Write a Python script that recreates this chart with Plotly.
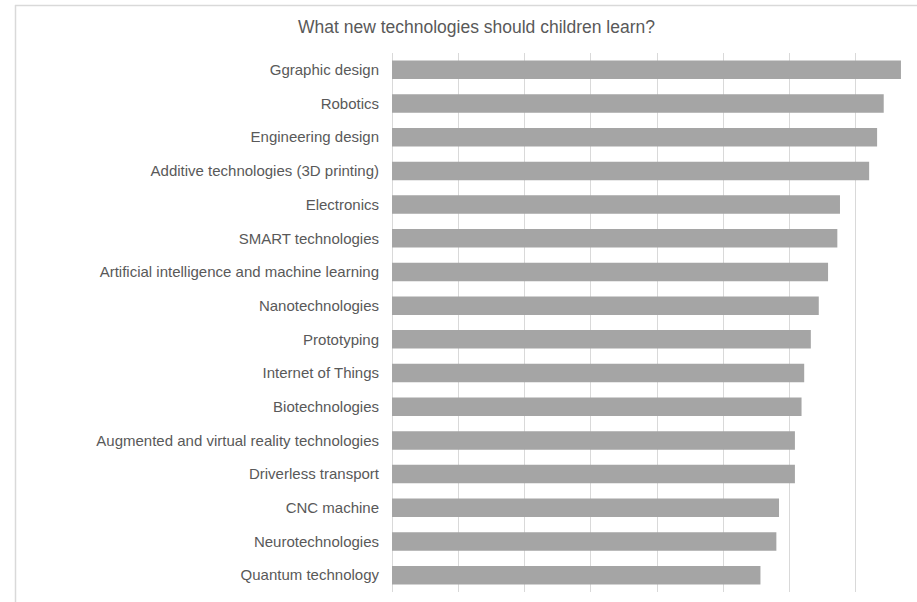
import plotly.graph_objects as go

categories = [
    "Ggraphic design",
    "Robotics",
    "Engineering design",
    "Additive technologies (3D printing)",
    "Electronics",
    "SMART technologies",
    "Artificial intelligence and machine learning",
    "Nanotechnologies",
    "Prototyping",
    "Internet of Things",
    "Biotechnologies",
    "Augmented and virtual reality technologies",
    "Driverless transport",
    "CNC machine",
    "Neurotechnologies",
    "Quantum technology",
]
values = [3.84, 3.71, 3.66, 3.60, 3.38, 3.36, 3.29, 3.22, 3.16, 3.11, 3.09, 3.04, 3.04, 2.92, 2.90, 2.78]

title_text = "What new technologies should children learn?"

W, H = 917, 602
L, R, T, B = 392, 0, 53, 10
plot_w = W - L - R
plot_h = H - T - B
px_per_unit = 66.27 / 0.5
xmax = plot_w / px_per_unit

fig = go.Figure(
    go.Bar(
        x=values,
        y=categories,
        orientation="h",
        marker=dict(color="#A5A5A5", line=dict(width=0)),
        hoverinfo="x+y",
    )
)

grid = "#D9D9D9"
text_col = "#595959"
font_family = "Liberation Sans, Arial, sans-serif"


def px_to_paper_x(px):
    return (px - L) / plot_w


def px_to_paper_y(py):
    return (H - B - py) / plot_h


fig.update_layout(
    width=W,
    height=H,
    margin=dict(l=L, r=R, t=T, b=B, autoexpand=False),
    paper_bgcolor="white",
    plot_bgcolor="white",
    bargap=0.45,
    showlegend=False,
    font=dict(family=font_family, size=15, color=text_col),
    title=dict(
        text=title_text,
        x=476.5 / W,
        xanchor="center",
        y=1 - 27 / H,
        yanchor="middle",
        font=dict(family=font_family, size=17.5, color=text_col),
    ),
    xaxis=dict(
        range=[0, xmax],
        dtick=0.5,
        tick0=0,
        showgrid=True,
        gridcolor=grid,
        gridwidth=1,
        showticklabels=False,
        zeroline=True,
        zerolinecolor=grid,
        zerolinewidth=1,
        showline=False,
        fixedrange=True,
    ),
    yaxis=dict(
        autorange="reversed",
        showgrid=False,
        showline=False,
        zeroline=False,
        ticks="",
        ticklabelstandoff=12,
        tickfont=dict(family=font_family, size=15, color=text_col),
        automargin=False,
        fixedrange=True,
    ),
    shapes=[
        dict(type="line", xref="paper", yref="paper",
             x0=px_to_paper_x(15), x1=px_to_paper_x(W + 5),
             y0=px_to_paper_y(5.5), y1=px_to_paper_y(5.5),
             line=dict(color=grid, width=1.5)),
        dict(type="line", xref="paper", yref="paper",
             x0=px_to_paper_x(15.5), x1=px_to_paper_x(15.5),
             y0=px_to_paper_y(5), y1=px_to_paper_y(H + 5),
             line=dict(color=grid, width=1.5)),
    ],
)

fig.write_html(
    "out.html",
    config={"displayModeBar": False},
    post_script="document.body.style.margin='0';document.body.style.overflow='hidden';",
)
